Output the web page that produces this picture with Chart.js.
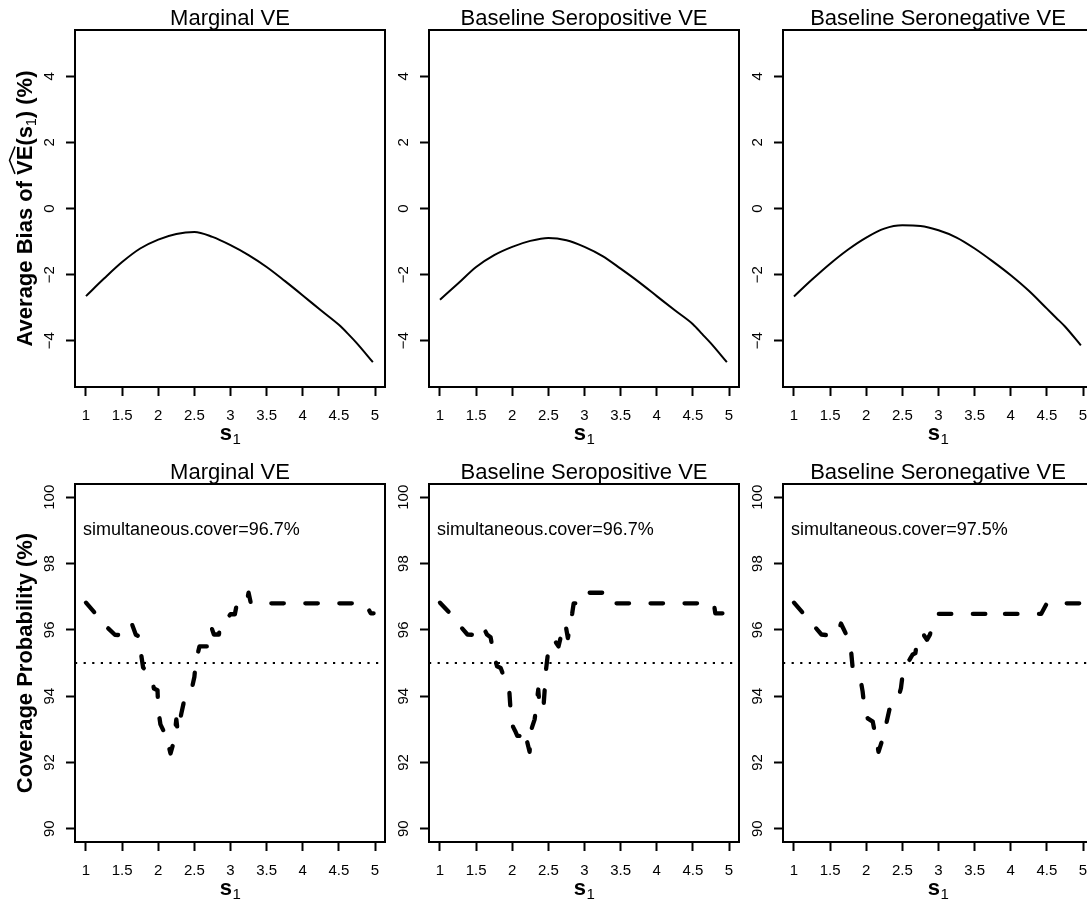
<!DOCTYPE html>
<html>
<head>
<meta charset="utf-8">
<script src="https://cdn.jsdelivr.net/npm/chart.js@4.4.1/dist/chart.umd.min.js"></script>
<style>
  html, body { margin: 0; padding: 0; background: #fff; overflow: hidden; }
  #fig { position: relative; width: 1087px; height: 901px; overflow: hidden; background: #fff; }
  .panel { position: absolute; }
</style>
</head>
<body>
<div id="fig"></div>
<script>
var panelTitles = ['Marginal VE', 'Baseline Seropositive VE', 'Baseline Seronegative VE'];
var coverLabels = ['simultaneous.cover=96.7%', 'simultaneous.cover=96.7%', 'simultaneous.cover=97.5%'];

// axis ticks
var s1Ticks = [1, 1.5, 2, 2.5, 3, 3.5, 4, 4.5, 5];
var biasTicks = [-4, -2, 0, 2, 4];
var covTicks = [90, 92, 94, 96, 98, 100];
var s1Lim = [0.848, 5.138];
var biasLim = [-5.4, 5.4];
var covLim = [89.6, 100.4];
var nominal = 95;

// top row: average bias (%)
var biasS1 = [1.0, 1.25, 1.5, 1.75, 2.0, 2.25, 2.5, 2.75, 3.0, 3.25, 3.5, 3.75, 4.0, 4.25, 4.5, 4.63, 4.75, 4.97];
var biasMarginal = [-2.65, -2.12, -1.62, -1.21, -0.94, -0.77, -0.71, -0.86, -1.11, -1.41, -1.77, -2.19, -2.63, -3.08, -3.52, -3.80, -4.08, -4.65];
var biasSeropos = [-2.76, -2.27, -1.77, -1.41, -1.16, -0.98, -0.89, -0.96, -1.16, -1.44, -1.82, -2.22, -2.65, -3.08, -3.50, -3.80, -4.08, -4.65];
var biasSeroneg = [-2.66, -2.15, -1.67, -1.24, -0.88, -0.61, -0.51, -0.53, -0.66, -0.88, -1.21, -1.60, -2.02, -2.49, -3.03, -3.31, -3.57, -4.14];

// bottom row: coverage probability (%)
var covMargS1 = [1.00, 1.12, 1.30, 1.40, 1.58, 1.64, 1.69, 1.74, 1.76, 1.79, 1.91, 1.94, 1.99, 2.00, 2.03, 2.07, 2.10, 2.13, 2.17, 2.22, 2.25, 2.27, 2.32, 2.36, 2.45, 2.50, 2.52, 2.57, 2.70, 2.72, 2.74, 2.77, 2.84, 2.86, 2.93, 3.00, 3.06, 3.09, 3.22, 3.25, 3.28, 3.32, 4.86, 4.91, 4.94, 4.98];
var covMarginal = [96.82, 96.52, 96.06, 95.85, 95.83, 96.15, 95.85, 95.80, 95.31, 94.87, 94.54, 94.23, 94.18, 93.60, 93.15, 92.97, 92.97, 92.62, 92.27, 92.66, 93.30, 92.93, 93.48, 93.88, 94.08, 94.58, 95.04, 95.50, 95.50, 95.75, 96.05, 95.86, 95.86, 96.18, 96.30, 96.47, 96.47, 96.80, 96.80, 97.12, 96.82, 96.80, 96.80, 96.62, 96.50, 96.50];

var covPosS1 = [1.00, 1.13, 1.30, 1.38, 1.55, 1.60, 1.65, 1.70, 1.75, 1.79, 1.84, 1.91, 1.96, 1.98, 2.01, 2.04, 2.07, 2.10, 2.13, 2.17, 2.20, 2.24, 2.26, 2.31, 2.36, 2.38, 2.43, 2.47, 2.50, 2.58, 2.64, 2.68, 2.72, 2.74, 2.77, 2.83, 2.85, 2.98, 3.04, 3.30, 3.36, 4.79, 4.81, 4.98];
var covSeropos = [96.82, 96.52, 96.06, 95.86, 95.84, 96.08, 95.86, 95.78, 95.20, 94.90, 94.85, 94.44, 94.14, 93.48, 93.08, 92.95, 92.80, 92.80, 92.95, 92.63, 92.68, 92.32, 92.97, 93.30, 94.20, 93.65, 93.60, 94.85, 95.40, 95.70, 95.50, 95.86, 95.80, 96.12, 95.75, 96.50, 96.80, 96.80, 97.12, 97.12, 96.80, 96.80, 96.50, 96.50];

var covNegS1 = [1.00, 1.12, 1.30, 1.38, 1.50, 1.60, 1.65, 1.69, 1.73, 1.78, 1.81, 1.88, 1.92, 1.95, 1.98, 2.02, 2.09, 2.12, 2.17, 2.22, 2.25, 2.28, 2.32, 2.40, 2.45, 2.48, 2.50, 2.55, 2.60, 2.64, 2.68, 2.72, 2.80, 2.84, 2.88, 2.93, 3.00, 3.72, 3.73, 3.75, 4.42, 4.50, 4.97];
var covSeroneg = [96.82, 96.52, 96.06, 95.86, 95.83, 95.85, 96.19, 96.01, 95.83, 95.60, 94.90, 94.62, 94.52, 94.14, 93.54, 93.33, 93.23, 92.90, 92.32, 92.66, 92.95, 93.20, 93.59, 93.74, 94.00, 94.24, 94.58, 95.00, 95.10, 95.25, 95.30, 95.86, 95.83, 95.70, 95.85, 96.20, 96.48, 96.48, 96.53, 96.48, 96.48, 96.80, 96.80];

var FONT = '"Liberation Sans", Arial, Helvetica, sans-serif';
Chart.defaults.font.family = FONT;
Chart.defaults.color = '#000';

function toPoints(xs, ys) {
  return xs.map(function (x, i) { return { x: x, y: ys[i] }; });
}

function minusSign(v) {
  return v < 0 ? '\u2212' + Math.abs(v) : String(v);
}

// draws the box, the s1 axis title, the y titles and the cover label
var framePlugin = {
  id: 'frame',
  afterDraw: function (chart) {
    var o = chart.options.plugins.frame;
    var a = chart.chartArea;
    var ctx = chart.ctx;
    ctx.save();
    ctx.strokeStyle = '#000';
    ctx.lineWidth = 2;
    ctx.strokeRect(a.left, a.top, a.right - a.left, a.bottom - a.top);

    ctx.fillStyle = '#000';
    ctx.textAlign = 'left';
    ctx.textBaseline = 'alphabetic';

    // x title: s with subscript 1
    ctx.font = 'bold 22px ' + FONT;
    var ws = ctx.measureText('s').width;
    ctx.font = '15px ' + FONT;
    var w1 = ctx.measureText('1').width;
    var x0 = (a.left + a.right) / 2 - (ws + w1) / 2;
    var yb = a.bottom + 53;
    ctx.font = 'bold 22px ' + FONT;
    ctx.fillText('s', x0, yb);
    ctx.font = '15px ' + FONT;
    ctx.fillText('1', x0 + ws + 0.5, yb + 4);

    // y title on first column
    if (o.col === 0) {
      var parts;
      if (o.row === 0) {
        parts = [
          { t: 'Average Bias of ', f: 'bold 22px ', dy: 0 },
          { t: 'VE', f: 'bold 22px ', dy: 0, hat: true },
          { t: '(s', f: 'bold 22px ', dy: 0 },
          { t: '1', f: '14px ', dy: 4 },
          { t: ') (%)', f: 'bold 22px ', dy: 0 }
        ];
      } else {
        parts = [{ t: 'Coverage Probability (%)', f: 'bold 22px ', dy: 0 }];
      }
      var total = 0;
      parts.forEach(function (p) {
        ctx.font = p.f + FONT;
        p.w = ctx.measureText(p.t).width;
        total += p.w;
      });
      ctx.translate(32, (a.top + a.bottom) / 2);
      ctx.rotate(-Math.PI / 2);
      var u = -total / 2;
      parts.forEach(function (p) {
        ctx.font = p.f + FONT;
        ctx.fillText(p.t, u, p.dy);
        if (p.hat) {
          ctx.beginPath();
          ctx.lineWidth = 1.5;
          ctx.moveTo(u + 1, -17);
          ctx.lineTo(u + p.w / 2, -22.5);
          ctx.lineTo(u + p.w - 1, -17);
          ctx.stroke();
        }
        u += p.w;
      });
      ctx.setTransform(1, 0, 0, 1, 0, 0);
    }

    // simultaneous coverage label
    if (o.row === 1) {
      ctx.font = '18px ' + FONT;
      ctx.textBaseline = 'middle';
      ctx.textAlign = 'left';
      ctx.fillText(coverLabels[o.col], chart.scales.x.getPixelForValue(0.96), chart.scales.y.getPixelForValue(99));
    }
    ctx.restore();
  }
};

var fig = document.getElementById('fig');

function makePanel(row, col, datasets) {
  var w = 400;
  var h = row === 0 ? 454 : 447;
  var areaRight = 385;
  var areaBottom = row === 0 ? 387 : 388;
  var div = document.createElement('div');
  div.className = 'panel';
  div.style.left = (col * 354) + 'px';
  div.style.top = (row * 454) + 'px';
  div.style.width = w + 'px';
  div.style.height = h + 'px';
  var canvas = document.createElement('canvas');
  canvas.width = w;
  canvas.height = h;
  canvas.style.width = w + 'px';
  canvas.style.height = h + 'px';
  div.appendChild(canvas);
  fig.appendChild(div);

  var yTicks = row === 0 ? biasTicks : covTicks;
  var yLim = row === 0 ? biasLim : covLim;
  var axisGrid = { drawOnChartArea: false, drawTicks: true, tickLength: 9, tickWidth: 2, tickColor: '#000' };

  return new Chart(canvas.getContext('2d'), {
    type: 'line',
    data: { datasets: datasets },
    options: {
      responsive: false,
      animation: false,
      devicePixelRatio: 1,
      layout: { padding: { left: 0, top: 0, right: w - areaRight, bottom: 0 } },
      plugins: {
        legend: { display: false },
        tooltip: { enabled: false },
        title: {
          display: true,
          text: panelTitles[col],
          fullSize: false,
          color: '#000',
          font: { size: 22, weight: 'normal', lineHeight: 1 },
          padding: { top: 8, bottom: 0 }
        },
        frame: { row: row, col: col }
      },
      scales: {
        x: {
          type: 'linear',
          min: s1Lim[0],
          max: s1Lim[1],
          afterBuildTicks: function (s) { s.ticks = s1Ticks.map(function (v) { return { value: v }; }); },
          afterFit: function (s) { s.height = h - areaBottom; },
          grid: axisGrid,
          border: { display: false },
          ticks: {
            color: '#000', font: { size: 15 }, padding: 11, minRotation: 0, maxRotation: 0, autoSkip: false,
            callback: function (v) { return String(v); }
          }
        },
        y: {
          type: 'linear',
          min: yLim[0],
          max: yLim[1],
          afterBuildTicks: function (s) { s.ticks = yTicks.map(function (v) { return { value: v }; }); },
          afterFit: function (s) { s.width = 75; },
          grid: axisGrid,
          border: { display: false },
          ticks: {
            color: '#000', font: { size: 15 }, padding: row === 0 ? 8 : 4,
            minRotation: 90, maxRotation: 90, crossAlign: 'center', autoSkip: false,
            callback: function (v) { return minusSign(v); }
          }
        }
      }
    },
    plugins: [framePlugin]
  });
}

function biasSet(values) {
  return [{
    data: toPoints(biasS1, values),
    borderColor: '#000',
    borderWidth: 2,
    pointRadius: 0,
    cubicInterpolationMode: 'monotone',
    fill: false
  }];
}

function covSet(xs, values) {
  return [{
    data: toPoints(xs, values),
    borderColor: '#000',
    borderWidth: 4.3,
    borderDash: [12.5, 21.5],
    borderCapStyle: 'round',
    borderJoinStyle: 'round',
    pointRadius: 0,
    tension: 0,
    fill: false
  }, {
    data: [{ x: s1Lim[0], y: nominal }, { x: s1Lim[1], y: nominal }],
    borderColor: '#000',
    borderWidth: 2,
    borderDash: [2.2, 6.4],
    pointRadius: 0,
    fill: false
  }];
}

makePanel(0, 0, biasSet(biasMarginal));
makePanel(0, 1, biasSet(biasSeropos));
makePanel(0, 2, biasSet(biasSeroneg));
makePanel(1, 0, covSet(covMargS1, covMarginal));
makePanel(1, 1, covSet(covPosS1, covSeropos));
makePanel(1, 2, covSet(covNegS1, covSeroneg));
</script>
</body>
</html>
